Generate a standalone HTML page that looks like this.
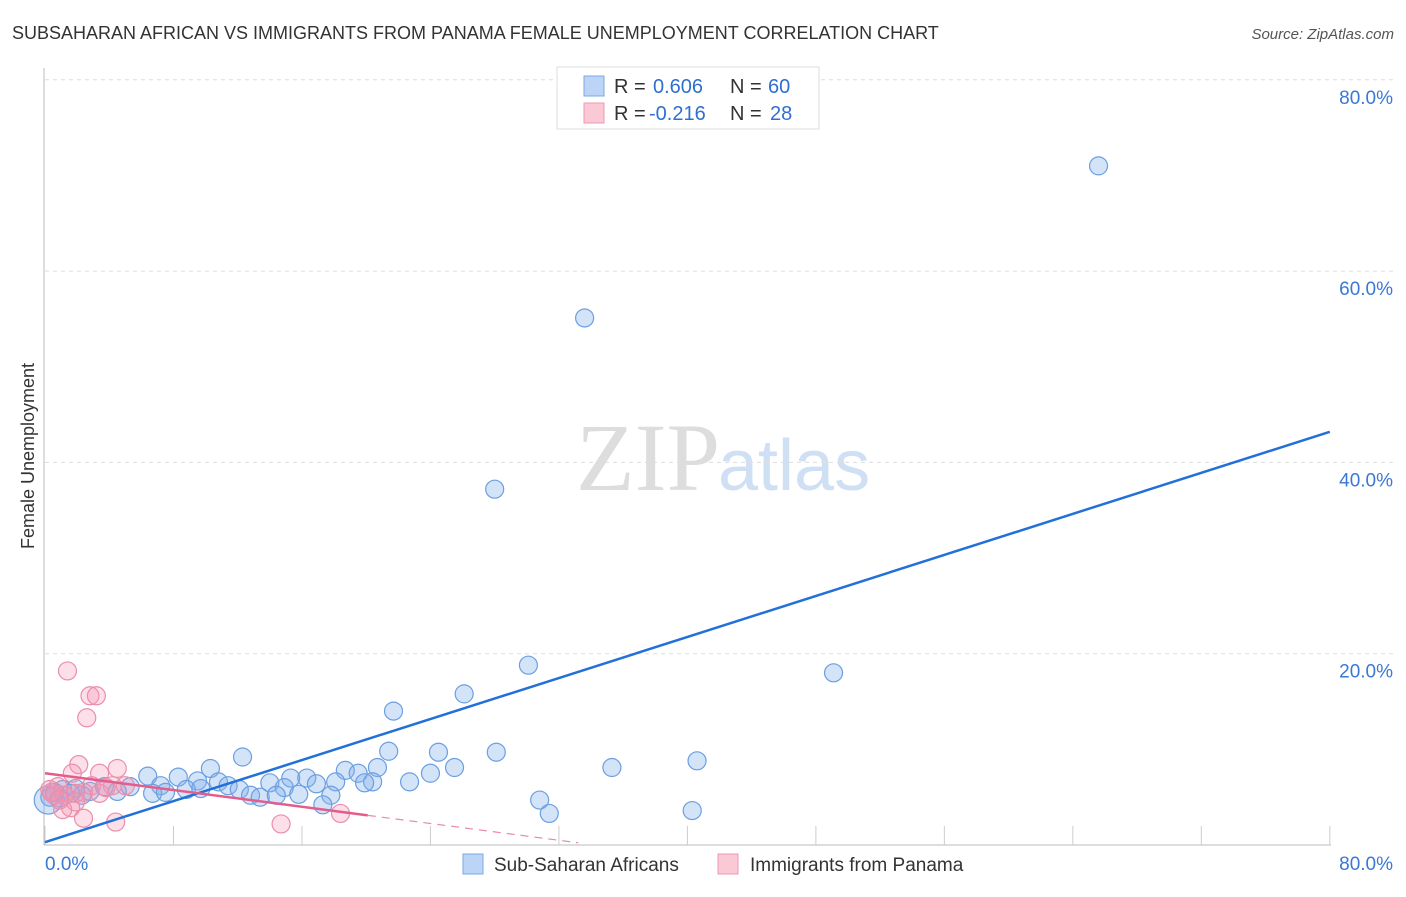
<!DOCTYPE html>
<html><head><meta charset="utf-8"><style>
body{margin:0;background:#fff;font-family:"Liberation Sans",sans-serif;}
</style></head><body>
<svg width="1406" height="892" font-family="Liberation Sans, sans-serif">
<text x="12" y="39" font-size="18" fill="#333">SUBSAHARAN AFRICAN VS IMMIGRANTS FROM PANAMA FEMALE UNEMPLOYMENT CORRELATION CHART</text>
<text x="1394" y="39" font-size="15" fill="#555" font-style="italic" text-anchor="end">Source: ZipAtlas.com</text>
<text x="720" y="490" font-size="96" fill="#ddd" text-anchor="end" font-family="Liberation Serif, serif">ZIP</text>
<text x="718" y="490" font-size="72" fill="#cfe0f5">atlas</text>
<g id="grid"></g>
<g id="axes"></g>
<g id="marks"></g>
<text transform="translate(34,456) rotate(-90)" font-size="18" fill="#333" text-anchor="middle">Female Unemployment</text>
<g>
<rect x="557" y="67" width="262" height="62" fill="#fff" stroke="#ddd"/>
<rect x="584" y="76" width="20" height="20" fill="#bcd4f5" stroke="#7aa8e6"/>
<rect x="584" y="103" width="20" height="20" fill="#fbc8d6" stroke="#ee9ab3"/>
<text x="614" y="93" font-size="20" fill="#333">R = </text><text x="653" y="93" font-size="20" fill="#2f6fd1">0.606</text>
<text x="730" y="93" font-size="20" fill="#333">N = </text><text x="768" y="93" font-size="20" fill="#2f6fd1">60</text>
<text x="614" y="120" font-size="20" fill="#333">R = </text><text x="649" y="120" font-size="20" fill="#2f6fd1">-0.216</text>
<text x="730" y="120" font-size="20" fill="#333">N = </text><text x="770" y="120" font-size="20" fill="#2f6fd1">28</text>
</g>
<g>
<rect x="463" y="854" width="20" height="20" fill="#bcd4f5" stroke="#7aa8e6"/>
<text x="494" y="871" font-size="19" fill="#333">Sub-Saharan Africans</text>
<rect x="718" y="854" width="20" height="20" fill="#fbc8d6" stroke="#ee9ab3"/>
<text x="750" y="871" font-size="19" fill="#333">Immigrants from Panama</text>
</g>
</svg>
<script>
const blueX=[65.6,33.6,28.0,30.1,49.1,26.1,21.7,12.3,21.4,24.5,28.1,40.6,35.3,10.3,20.7,18.7,25.5,24.0,19.5,6.4,8.3,9.5,10.8,15.3,16.3,14.0,11.4,20.4,18.1,22.7,16.9,19.9,14.9,3.7,5.3,7.2,8.8,9.7,12.1,4.5,2.8,1.1,1.9,0.6,0.3,2.3,6.7,7.5,12.8,13.4,14.4,15.8,17.8,17.3,30.8,31.4,40.3,0.9,1.6,0.2];
const blueY=[71.0,55.1,37.2,18.8,18.0,15.8,14.0,9.2,9.8,9.7,9.7,8.8,8.1,8.0,8.1,7.8,8.1,7.5,7.5,7.2,7.1,6.7,6.6,7.0,7.0,6.5,6.2,6.6,6.6,6.6,6.4,6.5,6.0,6.1,6.1,6.2,5.8,5.9,5.8,5.6,5.6,5.8,5.9,5.5,5.0,5.2,5.4,5.5,5.2,5.0,5.2,5.3,5.2,4.2,4.7,3.3,3.6,4.9,5.4,4.7];
const pinkX=[1.4,2.8,3.2,2.6,2.1,4.5,1.7,3.4,4.2,2.9,0.8,0.3,0.6,1.2,1.9,2.4,3.4,1.9,1.6,1.1,2.4,4.4,14.7,18.4,3.8,5.0,0.9,0.4];
const pinkY=[18.2,15.6,15.6,13.3,8.4,8.0,7.5,7.5,6.2,6.2,6.1,5.8,5.2,5.2,5.4,5.5,5.4,4.5,3.9,3.7,2.8,2.4,2.2,3.3,6.0,6.2,4.7,5.5];
const yTicks=[20,40,60,80];
const yTickLabels=["20.0%","40.0%","60.0%","80.0%"];
const xTicks=[0,8,16,24,32,40,48,56,64,72,80];
const blueTrend=[0.3,43.2];
const pinkTrend=[7.5,3.1];
const pinkSolidEnd=20.1, pinkDashEnd=33.2;
const sx=v=>45+v*16.06, sy=v=>845-v*9.565;
const NS='http://www.w3.org/2000/svg';
function mk(p,t,a){const e=document.createElementNS(NS,t);for(const k in a)e.setAttribute(k,a[k]);p.appendChild(e);return e;}
const grid=document.getElementById('grid'),axes=document.getElementById('axes'),marks=document.getElementById('marks');
yTicks.forEach((v,i)=>{
 const l=mk(grid,'line',{x1:45,x2:1395,y1:sy(v),y2:sy(v),stroke:'#ddd','stroke-dasharray':'4,4'});
 
 
 const t=mk(axes,'text',{x:1393,y:sy(v)+24,'font-size':19,fill:'#3a78d6','text-anchor':'end'});t.textContent=yTickLabels[i];
 
 
});
const ya=mk(axes,'line',{x1:44,x2:44,y1:68,y2:845,stroke:'#bbb'});


const xa=mk(axes,'line',{x1:44,x2:1331,y1:845,y2:845,stroke:'#bbb'});


xTicks.forEach(v=>{const t=mk(axes,'line',{x1:sx(v),x2:sx(v),y1:826,y2:845,stroke:'#ccc'});
 
 });
const xl0=mk(axes,'text',{x:45,y:870,'font-size':19,fill:'#3a78d6'});xl0.textContent='0.0%';


const xl1=mk(axes,'text',{x:1393,y:870,'font-size':19,fill:'#3a78d6','text-anchor':'end'});xl1.textContent='80.0%';


blueX.forEach((x,i)=>{const c=mk(marks,'circle',{cx:sx(x),cy:sy(blueY[i]),r:(i==blueX.length-1?14:9),fill:'rgba(130,175,235,0.35)',stroke:'#6b9fe2','stroke-width':1.2});
 
 });
pinkX.forEach((x,i)=>{const c=mk(marks,'circle',{cx:sx(x),cy:sy(pinkY[i]),r:9,fill:'rgba(245,150,180,0.3)',stroke:'#ea8fab','stroke-width':1.2});
 
 });
const bl=mk(marks,'line',{x1:sx(0),y1:sy(blueTrend[0]),x2:sx(80),y2:sy(blueTrend[1]),stroke:'#2270d8','stroke-width':2.5});


const pf=x=>pinkTrend[0]+(pinkTrend[1]-pinkTrend[0])*x/pinkSolidEnd;
const pl=mk(marks,'line',{x1:sx(0),y1:sy(pf(0)),x2:sx(pinkSolidEnd),y2:sy(pf(pinkSolidEnd)),stroke:'#e35d8c','stroke-width':2.5});


const pd=mk(marks,'line',{x1:sx(pinkSolidEnd),y1:sy(pf(pinkSolidEnd)),x2:sx(pinkDashEnd),y2:sy(pf(pinkDashEnd)),stroke:'#e88aa8','stroke-width':1.2,'stroke-dasharray':'8,6'});


</script>
</body></html>
